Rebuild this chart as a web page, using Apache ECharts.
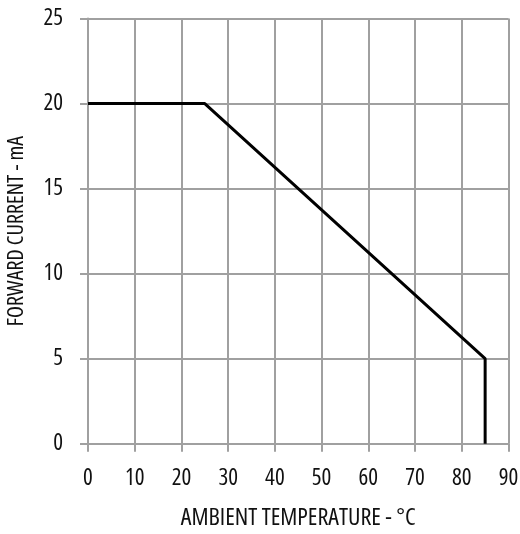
<!DOCTYPE html>
<html><head><meta charset="utf-8">
<script src="https://cdn.jsdelivr.net/npm/echarts@6/dist/echarts.min.js"></script>
<style>html,body{margin:0;padding:0;background:#fff}#c{width:520px;height:534px}</style>
</head><body><div id="c"></div>
<script>
const temperature = [0, 25, 85, 85];
const forwardCurrent = [20, 20, 5, 0];
const xTicks = [0, 10, 20, 30, 40, 50, 60, 70, 80, 90];
const yTicks = [0, 5, 10, 15, 20, 25];
const xName = 'AMBIENT TEMPERATURE - °C';
const yName = 'FORWARD CURRENT - mA';

const font = '"Open Sans", sans-serif';
const fw = 'normal condensed';
const gridColor = '#a0a0a0';
const textColor = '#111';
const chart = echarts.init(document.getElementById('c'));
chart.setOption({
  animation: false,
  grid: {left: 88, right: 11.5, top: 18.5, bottom: 90.3, containLabel: false, outerBoundsMode: 'none'},
  xAxis: {
    type: 'value', min: xTicks[0], max: xTicks[xTicks.length-1], interval: 10,
    name: xName, nameLocation: 'middle', nameGap: 62,
    nameTextStyle: {fontFamily: font, fontWeight: fw, fontSize: 24, color: textColor},
    axisLine: {show: true, onZero: false, lineStyle: {color: gridColor, width: 2}},
    axisTick: {show: true, length: 8, lineStyle: {color: gridColor, width: 2}},
    axisLabel: {margin: 23, fontFamily: font, fontWeight: fw, fontSize: 23, color: textColor},
    splitLine: {show: true, lineStyle: {color: gridColor, width: 2}}
  },
  yAxis: {
    type: 'value', min: yTicks[0], max: yTicks[yTicks.length-1], interval: 5,
    name: yName, nameLocation: 'middle', nameGap: 60,
    nameTextStyle: {fontFamily: font, fontWeight: fw, fontSize: 22, color: textColor},
    axisLine: {show: true, lineStyle: {color: gridColor, width: 2}},
    axisTick: {show: true, length: 8, lineStyle: {color: gridColor, width: 2}},
    axisLabel: {margin: 25, fontFamily: font, fontWeight: fw, fontSize: 23, color: textColor},
    splitLine: {show: true, lineStyle: {color: gridColor, width: 2}}
  },
  series: [{
    type: 'line', data: temperature.map((t, i) => [t, forwardCurrent[i]]),
    showSymbol: false, lineStyle: {color: '#000', width: 3}, z: 5
  }]
});
</script></body></html>
